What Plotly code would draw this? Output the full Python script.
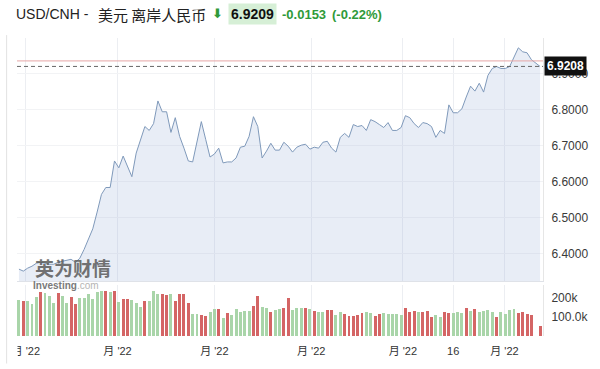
import plotly.graph_objects as go

# ---------------- data ----------------
price = [6.3562, 6.3507, 6.3589, 6.3644, 6.3726, 6.3753, 6.3726, 6.3699, 6.3699, 6.3753,
         6.3781, 6.3808, 6.3836, 6.3753, 6.3863, 6.4110, 6.4411, 6.4685, 6.5151, 6.5644,
         6.5836, 6.5836, 6.6575, 6.6384, 6.6712, 6.6438, 6.6137, 6.6795, 6.7178, 6.7534,
         6.7425, 6.7616, 6.8247, 6.7945, 6.7945, 6.7370, 6.7781, 6.7260, 6.6932, 6.6575,
         6.6548, 6.7123, 6.7671, 6.7178, 6.6685, 6.6767, 6.6932, 6.6521, 6.6548, 6.6548,
         6.6658, 6.6959, 6.6986, 6.7260, 6.7808, 6.7534, 6.6658, 6.6849, 6.7068, 6.6877,
         6.6877, 6.7096, 6.6986, 6.6822, 6.6959, 6.7014, 6.7041, 6.6904, 6.6959, 6.6932,
         6.7096, 6.7123, 6.6932, 6.6822, 6.7233, 6.7342, 6.7233, 6.7589, 6.7534, 6.7562,
         6.7425, 6.7726, 6.7671, 6.7589, 6.7507, 6.7644, 6.7425, 6.7425, 6.7507, 6.7836,
         6.7781, 6.7616, 6.7507, 6.7644, 6.7616, 6.7534, 6.7233, 6.7425, 6.7342, 6.8137,
         6.7918, 6.7918, 6.8027, 6.8356, 6.8658, 6.8521, 6.8740, 6.8493, 6.8959, 6.9151,
         6.9205, 6.9151, 6.9151, 6.9205, 6.9479, 6.9726, 6.9616, 6.9589, 6.9397, 6.9315,
         6.9208]

volume_k = [189, 184, 184, 168, 203, 230, 225, 210, 175, 225,
            212, 175, 203, 168, 198, 202, 219, 195, 230, 239,
            237, 233, 239, 181, 195, 195, 189, 172, 151, 184,
            184, 237, 221, 221, 216, 221, 184, 221, 221, 172,
            114, 114, 110, 107, 125, 140, 140, 93, 119, 110,
            140, 125, 133, 133, 158, 210, 154, 146, 128, 137,
            142, 146, 198, 135, 149, 146, 146, 140, 133, 128,
            125, 135, 135, 110, 128, 114, 107, 107, 110, 119,
            128, 123, 105, 114, 119, 116, 114, 114, 110, 149,
            128, 132, 125, 125, 132, 102, 110, 102, 128, 119,
            123, 125, 123, 149, 132, 142, 125, 132, 137, 128,
            100, 128, 114, 137, 140, 119, 128, 114, 110, None,
            54]

volume_dir = ["up", "down", "up", "up", "up", "down", "up", "up", "up", "down",
              "up", "up", "down", "down", "up", "up", "up", "up", "up", "up",
              "down", "up", "down", "up", "down", "down", "up", "up", "up", "down",
              "up", "up", "up", "down", "down", "up", "down", "down", "down", "down",
              "up", "up", "down", "down", "up", "up", "down", "up", "down", "up",
              "up", "up", "up", "up", "down", "down", "up", "up", "down", "up",
              "up", "down", "down", "up", "up", "up", "down", "up", "down", "up",
              "up", "down", "down", "up", "up", "down", "down", "down", "down", "down",
              "up", "up", "down", "down", "up", "up", "up", "up", "up", "down",
              "down", "down", "up", "down", "down", "down", "up", "up", "down", "down",
              "up", "up", "up", "down", "up", "down", "up", "up", "up", "up",
              "down", "up", "up", "up", "up", "down", "down", "down", "down", "down",
              "down"]

x_tick_pos = [1.6, 22.7, 45.0, 67.3, 88.4, 100.0, 111.8]
x_tick_text = ["月 '22", "月 '22", "月 '22", "月 '22", "月 '22", "16", "月 '22"]

y_tick_vals = [6.4, 6.5, 6.6, 6.7, 6.8, 6.9]
y_tick_text = ["6.4000", "6.5000", "6.6000", "6.7000", "6.8000", "6.9000"]
vol_tick_vals = [100, 200]
vol_tick_text = ["100.0k", "200k"]

last_price = 6.9208
prev_close = 6.9362
title_pair = "USD/CNH -"
title_name = "美元 离岸人民币"
quote_text = "6.9209"
change_text = "-0.0153"
pct_text = "(-0.22%)"
last_label = "6.9208"

# ---------------- layout helpers ----------------
W, H = 600, 369
ML, MR, MT, MB = 15, 52, 38, 28
PW, PH = W - ML - MR, H - MT - MB


def px2x(px):
    return (px - ML) / PW


def py2y(py):
    return (H - MB - py) / PH


FONT = "Liberation Sans, Arial, Noto Sans CJK SC, sans-serif"
GREEN = "#2f9a3a"
x = list(range(len(price)))

fig = go.Figure()
fig.add_trace(go.Scatter(
    x=x, y=price, mode="lines",
    line=dict(color="#7f99ba", width=1),
    fill="tozeroy", fillcolor="rgba(150,175,212,0.22)",
    hoverinfo="skip", xaxis="x", yaxis="y"))

bar_colors = ["#a9d5a9" if d == "up" else "#d46565" for d in volume_dir]
fig.add_trace(go.Bar(
    x=x, y=volume_k, marker=dict(color=bar_colors, line=dict(width=0)),
    width=0.68, xaxis="x2", yaxis="y2", hoverinfo="skip"))

grid = "#eceef2"
fig.update_layout(
    width=W, height=H,
    margin=dict(l=ML, r=MR, t=MT, b=MB),
    paper_bgcolor="white", plot_bgcolor="white",
    showlegend=False,
    font=dict(family=FONT, color="#333333", size=12),
    xaxis=dict(range=[-0.45, 120.68], tickvals=x_tick_pos, showticklabels=False,
               showgrid=True, gridcolor=grid, zeroline=False,
               showline=True, linecolor="#dfe2e8", anchor="y"),
    yaxis=dict(domain=[py2y(285.5), 1], range=[6.322, 7.0], side="right",
               tickvals=y_tick_vals, ticktext=y_tick_text,
               showgrid=True, gridcolor="#f2f3f5", zeroline=False,
               showline=True, linecolor="#e6e6e6", ticks="",
               ticklabelstandoff=5, tickfont=dict(size=12, color="#3a3a3a")),
    xaxis2=dict(matches="x", anchor="y2", tickvals=x_tick_pos, ticktext=x_tick_text,
                showgrid=True, gridcolor=grid, zeroline=False, ticks="",
                ticklabelstandoff=7, tickfont=dict(size=11, color="#333333")),
    yaxis2=dict(domain=[0, py2y(289)], range=[0, 268], side="right",
                tickvals=vol_tick_vals, ticktext=vol_tick_text,
                showgrid=False, zeroline=False, ticks="",
                showline=True, linecolor="#e6e6e6",
                ticklabelstandoff=5, tickfont=dict(size=12, color="#3a3a3a")),
    bargap=0,
)

shapes = [
    # previous close line
    dict(type="line", xref="paper", yref="y", x0=0, x1=1, y0=prev_close, y1=prev_close,
         line=dict(color="#e6a6a6", width=1)),
    # last price dashed line
    dict(type="line", xref="paper", yref="y", x0=0, x1=1, y0=last_price, y1=last_price,
         line=dict(color="#666666", width=1, dash="4px,3px")),
    # clip first tick label at the left edge
    dict(type="rect", xref="paper", yref="paper", x0=px2x(0), x1=px2x(15.5),
         y0=py2y(368), y1=py2y(344), fillcolor="white", line=dict(width=0), layer="above"),
    # left border
    dict(type="line", xref="paper", yref="paper", x0=px2x(4.5), x1=px2x(4.5),
         y0=py2y(369), y1=py2y(35), line=dict(color="#e2e2e2", width=1), layer="above"),
]
fig.update_layout(shapes=shapes)

ty = py2y(14)
annotations = [
    dict(text=title_pair, x=px2x(12), y=ty, xanchor="left", yanchor="middle",
         font=dict(size=14, color="#222222", family=FONT)),
    dict(text=title_name, x=px2x(95), y=ty, xanchor="left", yanchor="middle",
         font=dict(size=15, color="#222222", family="Noto Sans CJK SC, sans-serif")),
    dict(text="<b>⬇</b>", x=px2x(218), y=py2y(13), xanchor="center", yanchor="middle",
         font=dict(size=13, color=GREEN, family="DejaVu Sans")),
    dict(text="<b>" + quote_text + "</b>", x=px2x(229), y=ty, xanchor="left", yanchor="middle",
         bgcolor="#d6efd6", borderpad=2,
         font=dict(size=14, color="#111111", family=FONT)),
    dict(text="<b>" + change_text + "</b>", x=px2x(281), y=ty, xanchor="left", yanchor="middle",
         font=dict(size=13, color=GREEN, family=FONT)),
    dict(text="<b>" + pct_text + "</b>", x=px2x(332), y=ty, xanchor="left", yanchor="middle",
         font=dict(size=13, color=GREEN, family=FONT)),
    # last price tag
    dict(text="<b>" + last_label + "</b>", x=px2x(549), y=last_price, yref="y",
         xanchor="left", yanchor="middle", bgcolor="#111111", borderpad=2,
         font=dict(size=12, color="white", family=FONT)),
    # watermark
    dict(text="<b>英为财情</b>", x=px2x(72), y=py2y(271), xanchor="center", yanchor="middle",
         font=dict(size=19, color="rgba(90,90,90,0.85)", family="Noto Sans CJK SC, sans-serif")),
    dict(text="<b>Investing</b><span style='color:#b5b5b5'>.com</span>", x=px2x(29), y=py2y(290),
         xanchor="left", yanchor="middle",
         font=dict(size=10, color="#7a7a7a", family=FONT)),
]
for a in annotations:
    a.setdefault("xref", "paper")
    a.setdefault("yref", "paper")
    a["showarrow"] = False
fig.update_layout(annotations=annotations)

fig.write_html("out.html")
